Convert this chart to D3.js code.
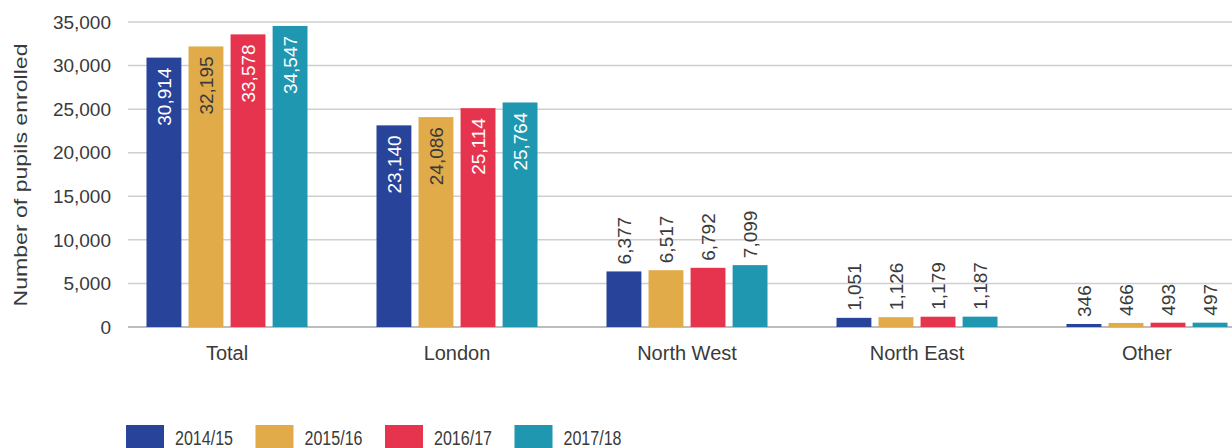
<!DOCTYPE html>
<html>
<head>
<meta charset="utf-8">
<script src="https://cdn.jsdelivr.net/npm/d3@7"></script>
<style>
  body { margin: 0; background: #fff; }
  text { font-family: "Liberation Sans", Arial, sans-serif; fill: #3a3a3a; }
</style>
</head>
<body>
<div id="chart"></div>
<script>
const width = 1232;
const height = 448;

const regions = ['Total', 'London', 'North West', 'North East', 'Other'];
const years = ['2014/15', '2015/16', '2016/17', '2017/18'];
const y2014 = [30914, 23140, 6377, 1051, 346];
const y2015 = [32195, 24086, 6517, 1126, 466];
const y2016 = [33578, 25114, 6792, 1179, 493];
const y2017 = [34547, 25764, 7099, 1187, 497];
const yTicks = [0, 5000, 10000, 15000, 20000, 25000, 30000, 35000];

const colors = ['#27449a', '#e1ab4a', '#e6344f', '#1f97b0'];
const labelInside = ['#ffffff', '#3a3a3a', '#ffffff', '#ffffff'];

const series = [y2014, y2015, y2016, y2017];
const data = regions.map((r, i) => ({
  region: r,
  values: years.map((yr, j) => ({ year: yr, idx: j, value: series[j][i] }))
}));

const svg = d3.select('#chart').append('svg')
  .attr('width', width)
  .attr('height', height);

const x0 = d3.scaleBand()
  .domain(regions)
  .range([112, 1262])
  .paddingInner(0.3)
  .paddingOuter(0.15);

const x1 = d3.scaleBand()
  .domain(years)
  .range([0, x0.bandwidth()])
  .paddingInner(0.17);

const y = d3.scaleLinear()
  .domain([0, 35000])
  .range([327, 22]);

// gridlines
svg.append('g')
  .selectAll('line')
  .data(yTicks)
  .enter()
  .append('line')
  .attr('x1', 128)
  .attr('x2', width)
  .attr('y1', d => y(d))
  .attr('y2', d => y(d))
  .attr('stroke', d => d === 0 ? '#bdbdbd' : '#cfcfcf')
  .attr('stroke-width', d => d === 0 ? 2 : 1.5);

// y tick labels
svg.append('g')
  .selectAll('text')
  .data(yTicks)
  .enter()
  .append('text')
  .attr('x', 111)
  .attr('y', d => y(d))
  .attr('dy', '0.35em')
  .attr('text-anchor', 'end')
  .style('font-size', '19px')
  .text(d => d3.format(',')(d));

// axis title
svg.append('text')
  .attr('transform', 'translate(27,175) rotate(-90)')
  .attr('text-anchor', 'middle')
  .style('font-size', '19px')
  .attr('textLength', 263)
  .attr('lengthAdjust', 'spacingAndGlyphs')
  .text('Number of pupils enrolled');

const group = svg.append('g')
  .selectAll('g')
  .data(data)
  .enter()
  .append('g')
  .attr('transform', d => 'translate(' + x0(d.region) + ',0)');

group.selectAll('rect')
  .data(d => d.values)
  .enter()
  .append('rect')
  .attr('x', d => x1(d.year))
  .attr('y', d => y(d.value))
  .attr('width', x1.bandwidth())
  .attr('height', d => y(0) - y(d.value))
  .attr('fill', d => colors[d.idx]);

group.selectAll('text')
  .data(d => d.values)
  .enter()
  .append('text')
  .attr('transform', d => 'translate(' + (x1(d.year) + x1.bandwidth() / 2) + ',' + y(d.value) + ') rotate(-90)')
  .attr('x', d => d.value > 10000 ? -10 : 7)
  .attr('dy', '0.35em')
  .attr('text-anchor', d => d.value > 10000 ? 'end' : 'start')
  .style('font-size', '19px')
  .style('fill', d => d.value > 10000 ? labelInside[d.idx] : '#3a3a3a')
  .text(d => d3.format(',')(d.value));

// category labels
svg.append('g')
  .selectAll('text')
  .data(regions)
  .enter()
  .append('text')
  .attr('x', d => x0(d) + x0.bandwidth() / 2)
  .attr('y', 353)
  .attr('dy', '0.35em')
  .attr('text-anchor', 'middle')
  .style('font-size', '20px')
  .text(d => d);

// legend
const legend = svg.append('g')
  .selectAll('g')
  .data(years)
  .enter()
  .append('g')
  .attr('transform', (d, i) => 'translate(' + (126 + i * 129.5) + ',425)');

legend.append('rect')
  .attr('width', 38)
  .attr('height', 24)
  .attr('fill', (d, i) => colors[i]);

legend.append('text')
  .attr('x', 49)
  .attr('y', 20)
  .style('font-size', '20px')
  .attr('textLength', 58)
  .attr('lengthAdjust', 'spacingAndGlyphs')
  .text(d => d);
</script>
</body>
</html>
